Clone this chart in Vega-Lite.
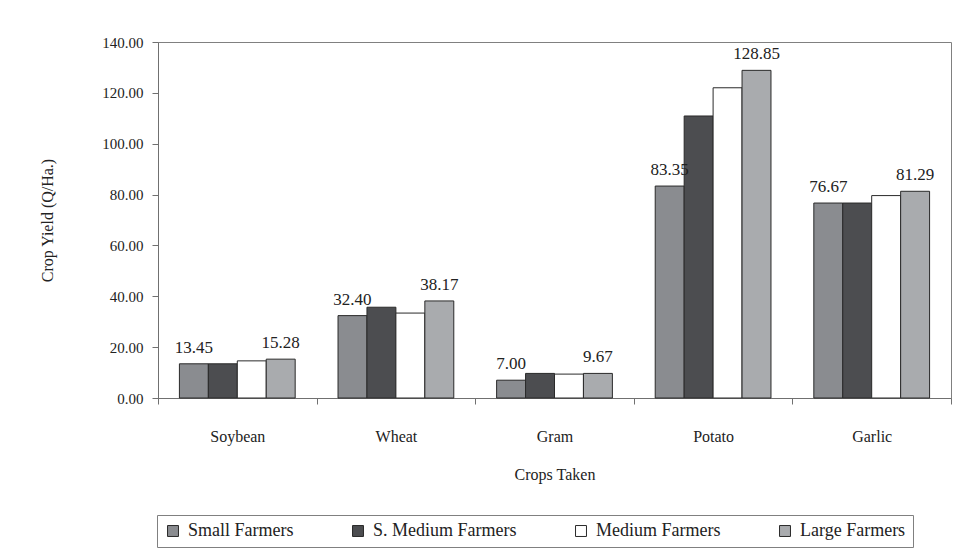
{
  "$schema": "https://vega.github.io/schema/vega-lite/v6.json",
  "autosize": {"type": "none"},
  "width": 793,
  "height": 356,
  "padding": {"left": 158, "top": 42, "right": 2, "bottom": 154},
  "background": "white",
  "config": {
    "font": "Liberation Serif",
    "view": {"stroke": "#808080", "strokeWidth": 1},
    "axis": {
      "labelFont": "Liberation Serif",
      "titleFont": "Liberation Serif",
      "labelColor": "#222",
      "titleColor": "#222",
      "domainColor": "#707070",
      "tickColor": "#707070",
      "grid": false
    }
  },
  "data": {
    "values": [
      {"crop": "Soybean", "series": "Small Farmers", "yield": 13.45},
      {"crop": "Soybean", "series": "S. Medium Farmers", "yield": 13.45},
      {"crop": "Soybean", "series": "Medium Farmers", "yield": 14.6},
      {"crop": "Soybean", "series": "Large Farmers", "yield": 15.28},
      {"crop": "Wheat", "series": "Small Farmers", "yield": 32.40},
      {"crop": "Wheat", "series": "S. Medium Farmers", "yield": 35.7},
      {"crop": "Wheat", "series": "Medium Farmers", "yield": 33.4},
      {"crop": "Wheat", "series": "Large Farmers", "yield": 38.17},
      {"crop": "Gram", "series": "Small Farmers", "yield": 7.00},
      {"crop": "Gram", "series": "S. Medium Farmers", "yield": 9.67},
      {"crop": "Gram", "series": "Medium Farmers", "yield": 9.4},
      {"crop": "Gram", "series": "Large Farmers", "yield": 9.67},
      {"crop": "Potato", "series": "Small Farmers", "yield": 83.35},
      {"crop": "Potato", "series": "S. Medium Farmers", "yield": 110.9},
      {"crop": "Potato", "series": "Medium Farmers", "yield": 122.0},
      {"crop": "Potato", "series": "Large Farmers", "yield": 128.85},
      {"crop": "Garlic", "series": "Small Farmers", "yield": 76.67},
      {"crop": "Garlic", "series": "S. Medium Farmers", "yield": 76.67},
      {"crop": "Garlic", "series": "Medium Farmers", "yield": 79.6},
      {"crop": "Garlic", "series": "Large Farmers", "yield": 81.29}
    ]
  },
  "encoding": {
    "x": {
      "field": "crop",
      "type": "nominal",
      "sort": ["Soybean", "Wheat", "Gram", "Potato", "Garlic"],
      "scale": {"paddingInner": 0, "paddingOuter": 0},
      "axis": {
        "title": "Crops Taken",
        "labelAngle": 0,
        "labelFontSize": 16,
        "titleFontSize": 16,
        "titleFontWeight": "normal",
        "tickBand": "extent",
        "tickSize": 6,
        "labelPadding": 24,
        "titlePadding": 22
      }
    },
    "xOffset": {
      "field": "series",
      "type": "nominal",
      "sort": ["Small Farmers", "S. Medium Farmers", "Medium Farmers", "Large Farmers"],
      "scale": {"paddingInner": 0, "paddingOuter": 0.74}
    },
    "y": {
      "field": "yield",
      "type": "quantitative",
      "scale": {"domain": [0, 140], "nice": false},
      "axis": {
        "title": "Crop Yield (Q/Ha.)",
        "values": [0, 20, 40, 60, 80, 100, 120, 140],
        "format": ".2f",
        "labelFontSize": 15,
        "titleFontSize": 16,
        "titleFontWeight": "normal",
        "tickSize": 6,
        "labelPadding": 9,
        "titlePadding": 46
      }
    }
  },
  "layer": [
    {
      "mark": {"type": "bar", "stroke": "#2a2a2a", "strokeWidth": 1},
      "encoding": {
        "color": {
          "field": "series",
          "type": "nominal",
          "scale": {
            "domain": ["Small Farmers", "S. Medium Farmers", "Medium Farmers", "Large Farmers"],
            "range": ["#8a8c90", "#4c4d50", "#ffffff", "#a9abae"]
          },
          "legend": {
            "title": null,
            "orient": "none",
            "legendX": -1,
            "legendY": 473,
            "direction": "horizontal",
            "columns": 4,
            "columnPadding": 55,
            "strokeColor": "#808080",
            "padding": 7,
            "symbolType": "square",
            "symbolSize": 120,
            "symbolStrokeColor": "#2a2a2a",
            "symbolStrokeWidth": 1,
            "symbolOpacity": 1,
            "labelFont": "Liberation Serif",
            "labelFontSize": 18,
            "labelColor": "#222",
            "labelOffset": 6
          }
        }
      }
    },
    {
      "transform": [{"filter": "datum.series === 'Small Farmers' || datum.series === 'Large Farmers'"}],
      "mark": {"type": "text", "baseline": "bottom", "dy": -7, "fontSize": 17, "font": "Liberation Serif", "color": "#222"},
      "encoding": {
        "text": {"field": "yield", "type": "quantitative", "format": ".2f"}
      }
    }
  ]
}
